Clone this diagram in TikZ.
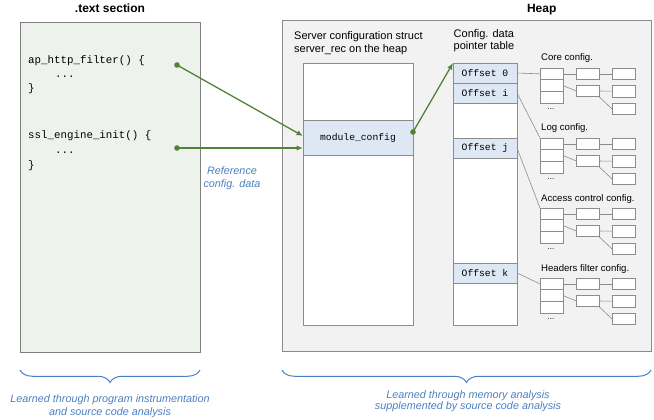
\documentclass[tikz,border=0pt]{standalone}
\usepackage{fontspec}
\setmainfont{Liberation Sans}
\setsansfont{Liberation Sans}
\setmonofont{Liberation Mono}
\usetikzlibrary{arrows.meta,decorations.pathreplacing}
\definecolor{leftfill}{HTML}{EEF2EC}
\definecolor{heapfill}{HTML}{F2F2F2}
\definecolor{rowblue}{HTML}{DEE8F4}
\definecolor{bordergray}{HTML}{7F7F7F}
\definecolor{linegray}{HTML}{8C8C8C}
\definecolor{grn}{HTML}{548235}
\definecolor{bluetxt}{HTML}{4A7FC0}
\tikzset{
  title/.style={anchor=base, inner sep=0pt, font=\fontsize{12}{14}\selectfont\bfseries},
  txt/.style={anchor=base west, inner sep=0pt, font=\fontsize{11}{13}\selectfont},
  code/.style={anchor=base west, inner sep=0pt, font=\fontsize{10.8}{13}\selectfont\ttfamily},
  bluenote/.style={anchor=base, inner sep=0pt, text=bluetxt, font=\fontsize{10.8}{13}\selectfont\itshape},
  lbl/.style={anchor=base west, inner sep=0pt, font=\fontsize{9.6}{11}\selectfont},
  dotsl/.style={anchor=base, inner sep=0pt, font=\fontsize{8}{9}\selectfont},
  bigbox/.style={draw=bordergray, line width=0.9pt, inner sep=0pt, outer sep=0pt},
  colbox/.style={draw=linegray, line width=0.8pt, fill=white, inner sep=0pt, outer sep=0pt},
  rowbox/.style={draw=linegray, line width=0.8pt, fill=rowblue, inner sep=0pt, outer sep=0pt, font=\fontsize{9.7}{11}\selectfont\ttfamily},
  sbox/.style={anchor=north west, draw=linegray, line width=0.7pt, fill=white, minimum width=23pt, minimum height=11.7pt, inner sep=0pt, outer sep=0pt},
  conn/.style={draw=linegray, line width=0.6pt},
  garrow/.style={draw=grn, line width=1.3pt, -{Latex[length=6.5pt,width=5.5pt]}},
  gdot/.style={circle, fill=grn, inner sep=0pt, minimum size=5.6pt},
  bluebrace/.style={draw=bluetxt, line width=1pt, decorate, decoration={brace, mirror, amplitude=12.5pt}},
}
\newcommand\cfgblock[3]{%
  \node[lbl] at (541,#2-7) {#3};
  \node[sbox] (#1a) at (540,#2) {};
  \node[sbox] (#1b) at (540,#2+11.7) {};
  \node[sbox] (#1c) at (540,#2+23.4) {};
  \node[dotsl] at (551,#2+41.5) {...};
  \node[sbox] (#1d) at (576,#2) {};
  \node[sbox] (#1e) at (576,#2+17) {};
  \node[sbox] (#1f) at (612,#2) {};
  \node[sbox] (#1g) at (612,#2+17.5) {};
  \node[sbox] (#1h) at (612,#2+35) {};
  \draw[conn] (#1a) -- (#1d);
  \draw[conn] (#1d) -- (#1f);
  \draw[conn] (#1b.east) -- (#1e.west);
  \draw[conn] (#1e) -- (#1g);
  \draw[conn] (#1e.south east) -- (#1h.west);
}
\begin{document}
\begin{tikzpicture}[x=1pt,y=-1pt]
\useasboundingbox (0,0) rectangle (654,420);
% titles
\node[title] (t1) at (110,12.5) {.text section};
\node[title] (t2) at (541.7,12.5) {Heap};
% left box
\node[bigbox, fill=leftfill, minimum width=180pt, minimum height=330pt] (textsec) at (110,187) {};
\node[code] (c1) at (28,63.5) {ap\_http\_filter() \{};
\node[code] (c2) at (55,77.5) {...};
\node[code] (c3) at (28,92) {\}};
\node[code] (c4) at (28,139) {ssl\_engine\_init() \{};
\node[code] (c5) at (55,153.5) {...};
\node[code] (c6) at (28,168) {\}};
% heap box
\node[bigbox, draw=linegray, fill=heapfill, minimum width=369pt, minimum height=331pt] (heap) at (466.5,185.5) {};
\node[txt] (s1) at (294,39.5) {Server configuration struct};
\node[txt] (s2) at (294,52.5) {server\_rec on the heap};
\node[txt] (p1) at (453.5,38) {Config. data};
\node[txt] (p2) at (453.5,49.5) {pointer table};
\node[colbox, minimum width=110pt, minimum height=262pt] (struct) at (358,194) {};
\node[rowbox, minimum width=110pt, minimum height=35pt] (mc) at (358,137.5) {module\_config};
\node[colbox, minimum width=64pt, minimum height=262pt] (table) at (485,194) {};
\node[rowbox, minimum width=64pt, minimum height=20pt] (off0) at (485,73) {Offset 0};
\node[rowbox, minimum width=64pt, minimum height=20pt] (offi) at (485,93) {Offset i};
\node[rowbox, minimum width=64pt, minimum height=20pt] (offj) at (485,148) {Offset j};
\node[rowbox, minimum width=64pt, minimum height=20pt] (offk) at (485,273) {Offset k};
% config blocks
\cfgblock{core}{68}{Core config.}
\cfgblock{log}{138}{Log config.}
\cfgblock{acc}{208}{Access control config.}
\cfgblock{hdr}{278}{Headers filter config.}
\draw[conn] (off0.east) -- (corea.west);
\draw[conn] (offi.east) -- (loga.north west);
\draw[conn] (offj.east) -- (acca.north west);
\draw[conn] (offk.east) -- (hdra.west);
% green references
\node[gdot] (d1) at (177,65) {};
\node[gdot] (d2) at (177,148) {};
\node[gdot] (d3) at (413,132) {};
\coordinate (mcin1) at (303,136);
\coordinate (mcin2) at (303,148);
\draw[garrow] (d1.center) -- (mcin1);
\draw[garrow] (d2.center) -- (mcin2);
\draw[garrow] (d3.center) -- (off0.north west);
\node[bluenote] (r1) at (232,175) {Reference};
\node[bluenote] (r2) at (232,187) {config. data};
% braces
\coordinate (bl1) at (20,370);
\coordinate (bl2) at (200,370);
\coordinate (br1) at (282,370);
\coordinate (br2) at (651,370);
\draw[bluebrace] (bl1) -- (bl2);
\draw[bluebrace] (br1) -- (br2);
\node[bluenote] (n1) at (110,402.7) {Learned through program instrumentation};
\node[bluenote] (n2) at (110,415) {and source code analysis};
\node[bluenote] (n3) at (468,398.3) {Learned through memory analysis};
\node[bluenote] (n4) at (468,409.8) {supplemented by source code analysis};
\end{tikzpicture}
\end{document}
